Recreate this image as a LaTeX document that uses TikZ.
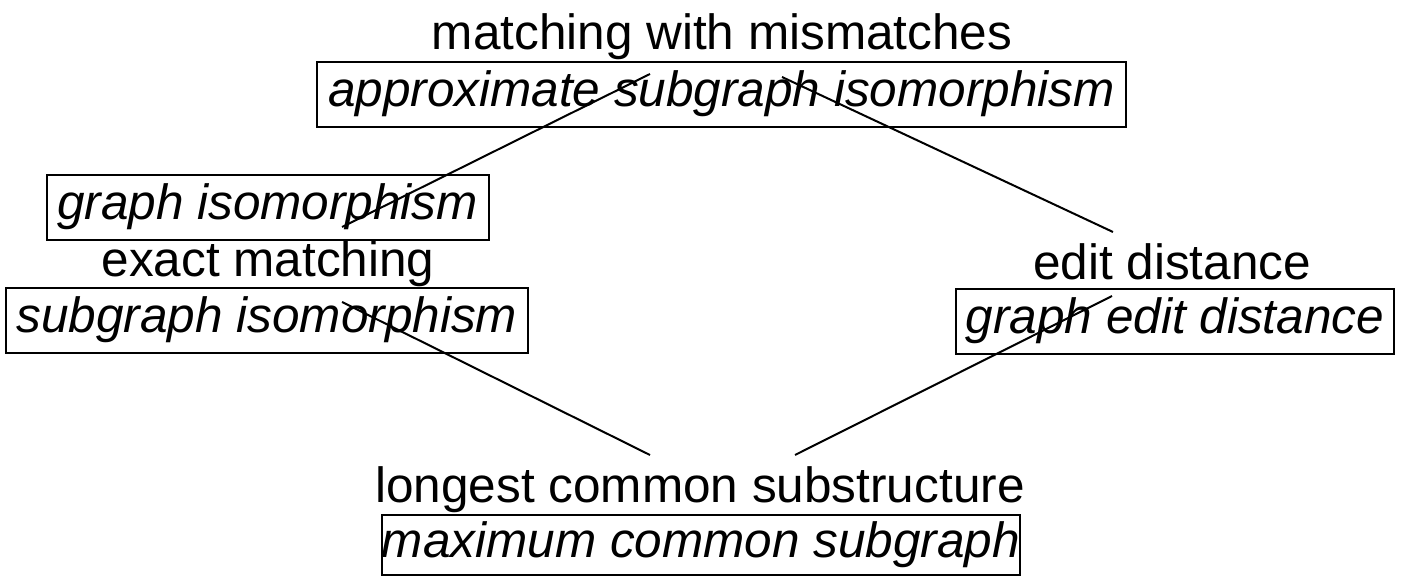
\documentclass[tikz,border=0pt]{standalone}
\usepackage{fontspec}
\setmainfont{Liberation Sans}
\begin{document}
\begin{tikzpicture}[x=0.5pt,y=-0.5pt,
  lbl/.style={font=\fontsize{24.75}{28}\selectfont, inner sep=0pt, anchor=base},
  term/.style={draw, line width=1pt, font=\fontsize{24.75}{28}\selectfont\itshape, inner sep=0pt, minimum height=32.5pt, text height=17.7pt, text depth=5.2pt},
  link/.style={line width=1pt}]
\useasboundingbox (0,0) rectangle (1402,576);
\node[lbl] (mwm) at (722,50) {matching with mismatches};
\node[term, minimum width=404.5pt] (asi) at (721.5,94.5) {approximate subgraph isomorphism};
\node[term, minimum width=221pt] (gi) at (267.5,207.5) {graph isomorphism};
\node[lbl] (em) at (268,277) {exact matching};
\node[term, minimum width=261pt] (si) at (267,320.5) {subgraph isomorphism};
\node[lbl] (ed) at (1172,280) {edit distance};
\node[term, minimum width=219pt] (ged) at (1175,321.5) {graph edit distance};
\node[lbl] (lcs) at (700,503) {longest common substructure};
\node[term, minimum width=308.5pt, minimum height=30pt] (mcs) at (701,545) {maximum common subgraph};
\coordinate (a1) at (342,227);
\coordinate (a2) at (650,74);
\coordinate (b1) at (782,77);
\coordinate (b2) at (1113,232);
\coordinate (c1) at (342,302);
\coordinate (c2) at (650,455);
\coordinate (d1) at (1112,296);
\coordinate (d2) at (795,455);
\draw[link] (a1) -- (a2);
\draw[link] (b1) -- (b2);
\draw[link] (c1) -- (c2);
\draw[link] (d1) -- (d2);
\end{tikzpicture}
\end{document}
